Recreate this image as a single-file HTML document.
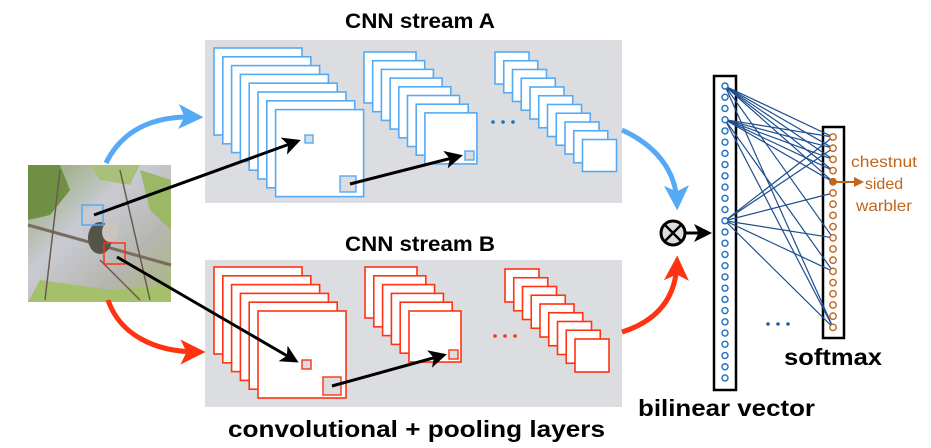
<!DOCTYPE html>
<html><head><meta charset="utf-8"><style>
html,body{margin:0;padding:0;background:#fff;width:931px;height:448px;overflow:hidden}
svg{display:block}
text{font-family:"Liberation Sans",Arial,sans-serif}
</style></head><body>
<svg id="s" width="931" height="448" viewBox="0 0 931 448" xmlns="http://www.w3.org/2000/svg">
<defs>
<marker id="ak" markerWidth="6" markerHeight="6" refX="5" refY="3" orient="auto" markerUnits="strokeWidth"><path d="M0,0 L6,3 L0,6 L1.5,3 z" fill="#000"/></marker>
<marker id="ab" markerWidth="5" markerHeight="5" refX="3.5" refY="2.5" orient="auto" markerUnits="strokeWidth"><path d="M0,0 L5,2.5 L0,5 L1.2,2.5 z" fill="#55aaf5"/></marker>
<marker id="ar" markerWidth="5" markerHeight="5" refX="3.5" refY="2.5" orient="auto" markerUnits="strokeWidth"><path d="M0,0 L5,2.5 L0,5 L1.2,2.5 z" fill="#ff3311"/></marker>
<marker id="ao" markerWidth="5" markerHeight="5" refX="4" refY="2.5" orient="auto" markerUnits="strokeWidth"><path d="M0,0 L5,2.5 L0,5 z" fill="#c0651c"/></marker>
<linearGradient id="sky" x1="0" y1="0" x2="1" y2="1"><stop offset="0" stop-color="#8fa468"/><stop offset="0.4" stop-color="#c9cbd3"/><stop offset="0.7" stop-color="#b6b6b0"/><stop offset="1" stop-color="#a8b878"/></linearGradient>
</defs>
<text x="345" y="28" font-size="21" font-weight="bold" textLength="150" lengthAdjust="spacingAndGlyphs">CNN stream A</text>
<text x="345" y="251" font-size="21" font-weight="bold" textLength="150" lengthAdjust="spacingAndGlyphs">CNN stream B</text>
<rect x="205" y="40" width="417" height="163" fill="#dcdde0"/>
<rect x="205" y="260" width="417" height="147" fill="#dcdde0"/>
<g id="stacks"></g>
<rect x="28" y="165" width="143" height="137" fill="url(#sky)"/>
<path d="M28,165 L60,165 L70,190 L50,215 L28,220 z" fill="#6f8f45"/>
<path d="M90,165 L140,165 L130,185 L100,180 z" fill="#a9c07a"/>
<path d="M140,170 L171,180 L171,230 L150,210 z" fill="#9ab865"/>
<path d="M40,280 L110,290 L171,285 L171,302 L28,302 z" fill="#a4c06a"/>
<path d="M28,225 L171,265" stroke="#7a6a60" stroke-width="3"/>
<path d="M60,170 L45,300 M120,170 L150,300 M100,260 L140,300" stroke="#6a5a50" stroke-width="1.5" fill="none"/>
<ellipse cx="100" cy="238" rx="12" ry="16" fill="#555448"/>
<ellipse cx="110" cy="232" rx="8" ry="10" fill="#c9c4bc"/>
<rect x="82" y="205" width="21" height="20" fill="none" stroke="#55aaf5" stroke-width="1.5"/>
<rect x="104" y="243" width="21" height="21" fill="none" stroke="#ff3311" stroke-width="1.5"/>
<path d="M106,163 C125,125 160,116 196,117" fill="none" stroke="#55aaf5" stroke-width="5" marker-end="url(#ab)"/>
<path d="M108,300 C120,335 155,352 198,352" fill="none" stroke="#ff3311" stroke-width="5" marker-end="url(#ar)"/>
<path d="M622,130 C655,145 676,170 677,203" fill="none" stroke="#55aaf5" stroke-width="5" marker-end="url(#ab)"/>
<path d="M622,332 C660,320 676,295 677,263" fill="none" stroke="#ff3311" stroke-width="5" marker-end="url(#ar)"/>
<path d="M94,215 L298,141" stroke="#000" stroke-width="3" marker-end="url(#ak)"/>
<path d="M117,257 L296,361" stroke="#000" stroke-width="3" marker-end="url(#ak)"/>
<path d="M350,184 L460,156" stroke="#000" stroke-width="3" marker-end="url(#ak)"/>
<path d="M332,386 L444,355" stroke="#000" stroke-width="3" marker-end="url(#ak)"/>
<circle cx="673" cy="233" r="12" fill="#dcdde0" stroke="#000" stroke-width="3"/>
<path d="M665,225 L681,241 M681,225 L665,241" stroke="#000" stroke-width="2.5"/>
<path d="M686,233 L709,233" stroke="#000" stroke-width="3" marker-end="url(#ak)"/>
<rect x="714" y="76" width="22" height="314" fill="#fff" stroke="#000" stroke-width="2.5"/>
<rect x="823" y="127" width="21" height="211" fill="#fff" stroke="#000" stroke-width="2.5"/>
<g id="net"></g>
<circle cx="768" cy="324" r="1.8" fill="#1f5fa0"/><circle cx="778" cy="324" r="1.8" fill="#1f5fa0"/><circle cx="788" cy="324" r="1.8" fill="#1f5fa0"/>
<path d="M833,182 L862,182" stroke="#c0651c" stroke-width="2" marker-end="url(#ao)"/>
<text x="884" y="167" font-size="16" fill="#c0651c" text-anchor="middle" textLength="66" lengthAdjust="spacingAndGlyphs">chestnut</text>
<text x="884" y="189" font-size="16" fill="#c0651c" text-anchor="middle">sided</text>
<text x="884" y="211" font-size="16" fill="#c0651c" text-anchor="middle" textLength="56" lengthAdjust="spacingAndGlyphs">warbler</text>
<text x="784" y="365" font-size="23" font-weight="bold" textLength="98" lengthAdjust="spacingAndGlyphs">softmax</text>
<text x="638" y="416" font-size="23" font-weight="bold" textLength="177" lengthAdjust="spacingAndGlyphs">bilinear vector</text>
<text x="228" y="437" font-size="23" font-weight="bold" textLength="377" lengthAdjust="spacingAndGlyphs">convolutional + pooling layers</text>
</svg>
<script>
var NS="http://www.w3.org/2000/svg";
function el(p,t,a){var e=document.createElementNS(NS,t);for(var k in a)e.setAttribute(k,a[k]);p.appendChild(e);return e;}
var g=document.getElementById("stacks");
function stack(x,y,w,h,n,step,c){for(var i=0;i<n;i++)el(g,"rect",{x:x+i*step,y:y+i*step,width:w,height:h,fill:"#fff",stroke:c,"stroke-width":1.6});}
var B="#55aaf5",R="#ff3311";
stack(214,48,88,87,8,8.8,B);
stack(364,52,52,51,8,8.7,B);
stack(495,52,34,32,11,8.75,B);
stack(214,267,88,87,6,8.8,R);
stack(365,267,52,51,6,8.8,R);
stack(505,269,34,33,9,8.75,R);
el(g,"rect",{x:305,y:135,width:8,height:8,fill:"#dcdde0",stroke:B,"stroke-width":1.4});
el(g,"rect",{x:340,y:176,width:16,height:16,fill:"#dcdde0",stroke:B,"stroke-width":1.4});
el(g,"rect",{x:465,y:151,width:9,height:9,fill:"#dcdde0",stroke:B,"stroke-width":1.4});
el(g,"rect",{x:302,y:360,width:9,height:9,fill:"#dcdde0",stroke:R,"stroke-width":1.4});
el(g,"rect",{x:323,y:377,width:18,height:18,fill:"#dcdde0",stroke:R,"stroke-width":1.4});
el(g,"rect",{x:449,y:350,width:9,height:9,fill:"#dcdde0",stroke:R,"stroke-width":1.4});
[493,503,513].forEach(function(x){el(g,"circle",{cx:x,cy:122,r:1.8,fill:"#1f6fc0"});});
[495,505,515].forEach(function(x){el(g,"circle",{cx:x,cy:336,r:1.8,fill:R});});
var n=document.getElementById("net");
function by(i){return 86+i*11.23;} function sy(i){return 137+i*11.2;}
var L=[[0,0],[0,1],[0,2],[0,3],[0,4],[0,17],[3,0],[3,1],[3,2],[3,3],[3,4],[3,12],[3,17],[0,9],[12,0],[12,1],[12,5],[12,9],[12,12],[12,17]];
L.forEach(function(p){el(n,"line",{x1:725,y1:by(p[0]),x2:833,y2:sy(p[1]),stroke:"#1f4f8f","stroke-width":1.2});});
for(var i=0;i<27;i++)el(n,"circle",{cx:725,cy:by(i),r:3,fill:"#fff",stroke:"#1f6fc0","stroke-width":1.4});
for(var j=0;j<18;j++)el(n,"circle",{cx:833,cy:sy(j),r:3.2,fill:j==4?"#c0651c":"#fff",stroke:"#c0651c","stroke-width":1.4});
</script>
</body></html>
